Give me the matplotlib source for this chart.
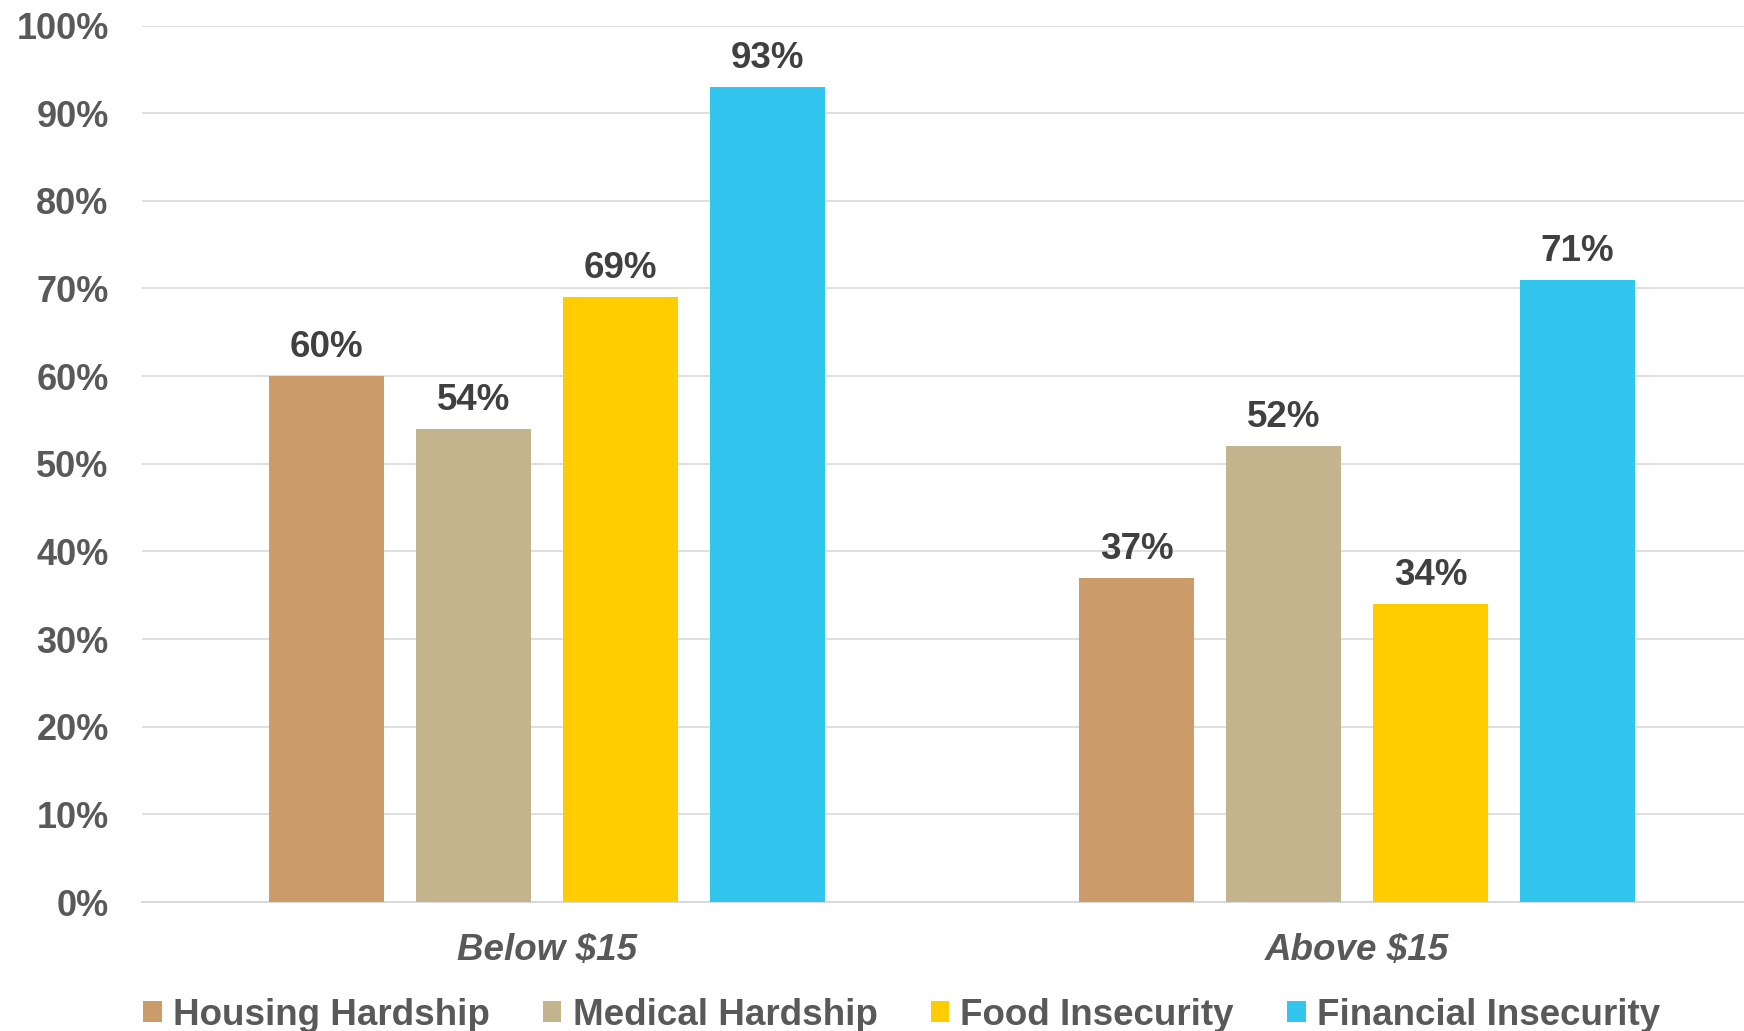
import matplotlib
matplotlib.use("Agg")
import matplotlib.pyplot as plt
from matplotlib.patches import Patch
import numpy as np

plt.rcParams['font.family'] = ['Liberation Sans', 'DejaVu Sans']

# data
groups = ['Below $15', 'Above $15']
series = ['Housing Hardship', 'Medical Hardship', 'Food Insecurity', 'Financial Insecurity']
housing = [60, 37]
medical = [54, 52]
food = [69, 34]
financial = [93, 71]
colors = ['#CC9B6A', '#C3B48E', '#FFCC00', '#32C5EE']

values = [housing, medical, food, financial]

fig = plt.figure(figsize=(17.44, 10.31), dpi=100)
ax = fig.add_axes([142 / 1744, 129 / 1031, 1620 / 1744, 876.5 / 1031])

x = np.arange(len(groups))
width = 0.143
step = 0.1815
for i, (vals, col) in enumerate(zip(values, colors)):
    pos = x + (i - 1.5) * step
    bars = ax.bar(pos, vals, width, color=col, zorder=3, label=series[i])
    for b, v in zip(bars, vals):
        ax.annotate(f'{v}%', (b.get_x() + b.get_width() / 2, v),
                    xytext=(0, 13.5), textcoords='offset points',
                    ha='center', va='baseline', fontsize=26.5,
                    fontweight='bold', color='#404040')

ax.set_xlim(-0.5, 1.5)
ax.set_ylim(0, 100)
ax.set_yticks(range(0, 101, 10))
ax.set_yticklabels([f'{t}%' for t in range(0, 101, 10)])
ax.set_xticks(x)
ax.set_xticklabels(groups, fontstyle='italic')

ax.grid(axis='y', color='#D9D9D9', linewidth=1.2, zorder=0)
for s in ['top', 'right', 'left']:
    ax.spines[s].set_visible(False)
ax.spines['bottom'].set_color('#D9D9D9')
ax.spines['bottom'].set_linewidth(1.4)

ax.tick_params(axis='y', length=0, pad=24, labelsize=26, labelcolor='#595959')
ax.tick_params(axis='x', length=0, pad=22, labelsize=26.5, labelcolor='#595959')
for lbl in ax.get_yticklabels() + ax.get_xticklabels():
    lbl.set_fontweight('bold')

handles = [Patch(facecolor=c) for c in colors]
leg = fig.legend(handles, series, loc='center', bbox_to_anchor=(0.517, 0.015),
                 ncol=4, frameon=False, fontsize=26.5, handlelength=0.5,
                 handleheight=0.5, handletextpad=0.3, columnspacing=1.45)
for t in leg.get_texts():
    t.set_color('#595959')
    t.set_fontweight('bold')

fig.savefig('out.png', dpi=100)
